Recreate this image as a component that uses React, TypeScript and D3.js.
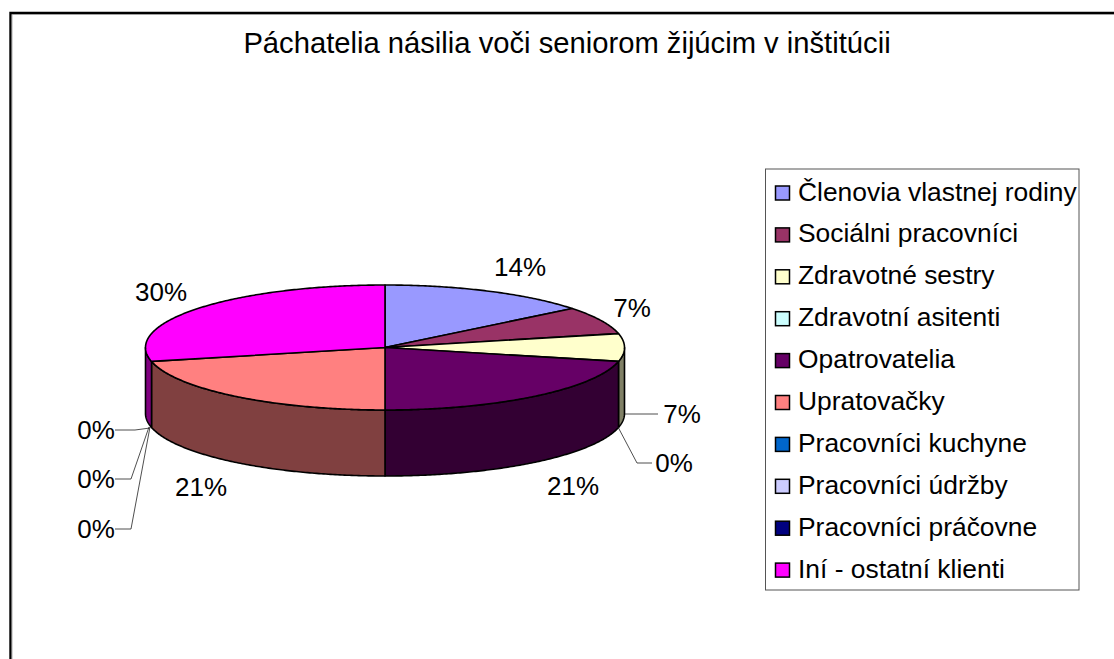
import React from "react";
import * as d3 from "d3";

const categories = [
  "Členovia vlastnej rodiny",
  "Sociálni pracovníci",
  "Zdravotné sestry",
  "Zdravotní asitenti",
  "Opatrovatelia",
  "Upratovačky",
  "Pracovníci kuchyne",
  "Pracovníci údržby",
  "Pracovníci práčovne",
  "Iní - ostatní klienti",
];
const counts = [2, 1, 1, 0, 3, 3, 0, 0, 0, 4];
const valueLabels = ["14%", "7%", "7%", "0%", "21%", "21%", "0%", "0%", "0%", "30%"];
const colors = ["#9999FF", "#993366", "#FFFFCC", "#CCFFFF", "#660066", "#FF8080", "#0066CC", "#CCCCFF", "#000080", "#FF00FF"];
const sideColors = ["#4D4D80", "#4D1A33", "#808066", "#668080", "#330033", "#804040", "#003366", "#666680", "#000040", "#800080"];
const title = "Páchatelia násilia voči seniorom žijúcim v inštitúcii";

// label centres, and leader polylines where the reference has them
const labelCentres: [number, number][] = [
  [520, 267], [632, 308], [682, 414], [674, 463], [573, 486],
  [201, 487], [96, 529], [96, 479], [96, 430], [161, 292],
];
const leaders: ([number, number][] | null)[] = [
  null, null,
  [[625, 414], [658, 414]],
  [[618, 427], [637, 463], [652, 463]],
  null, null,
  [[150, 427], [131, 529], [115, 529]],
  [[149, 427], [131, 479], [115, 479]],
  [[150, 428], [135, 430], [115, 430]],
  null,
];

const cx = 385, cy = 347.5, rx = 239.5, ry = 62.5, depth = 66;
const legend = { x: 765.5, y: 169, w: 313.5, h: 421, swatch: 14, firstRow: 193, rowGap: 41.9 };
const font = "'Liberation Sans', Arial, sans-serif";

const ept = (a: number, dy = 0): [number, number] => [cx + rx * Math.sin(a), cy - ry * Math.cos(a) + dy];
const samples = (a0: number, a1: number) => {
  const n = Math.max(2, Math.ceil((a1 - a0) / 0.01));
  return d3.range(n + 1).map((i) => a0 + ((a1 - a0) * i) / n);
};

export default function App() {
  const arcs = d3.pie<number>().sort(null)(counts);
  const line = d3.line();
  const FRONT0 = Math.PI / 2, FRONT1 = (3 * Math.PI) / 2;
  return (
    <svg
      width={1114}
      height={659}
      style={{ position: "absolute", left: 0, top: 0, background: "#fff", fontFamily: font }}
    >
      <path d="M1114,13H10.5V659" fill="none" stroke="#000" strokeWidth={2.4} />
      <path d="M1114,14.5H12V659" fill="none" stroke="#999" strokeWidth={0.8} />
      <text x={567} y={53} fontSize={29.2} textAnchor="middle" fill="#000">{title}</text>

      {arcs.map((d, i) => {
        const a0 = Math.max(d.startAngle, FRONT0), a1 = Math.min(d.endAngle, FRONT1);
        if (a1 <= a0) return null;
        const s = samples(a0, a1);
        const pts = [...s.map((a) => ept(a)), ...s.slice().reverse().map((a) => ept(a, depth))];
        return <path key={i} d={line(pts) + "Z"} fill={sideColors[i]} stroke="#000" strokeWidth={1.6} strokeLinejoin="round" />;
      })}
      {arcs.map((d, i) => {
        if (d.endAngle <= d.startAngle) return null;
        const pts: [number, number][] = [[cx, cy], ...samples(d.startAngle, d.endAngle).map((a) => ept(a))];
        return <path key={i} d={line(pts) + "Z"} fill={colors[i]} stroke="#000" strokeWidth={1.6} strokeLinejoin="round" />;
      })}

      {leaders.map((l, i) => l && <path key={i} d={line(l)!} fill="none" stroke="#222" strokeWidth={0.8} />)}
      {valueLabels.map((t, i) => (
        <text key={i} x={labelCentres[i][0]} y={labelCentres[i][1] + 9} fontSize={26} textAnchor="middle" fill="#000">{t}</text>
      ))}

      <rect x={legend.x} y={legend.y} width={legend.w} height={legend.h} fill="#fff" stroke="#555" strokeWidth={1} />
      {categories.map((c, i) => {
        const y = legend.firstRow + i * legend.rowGap;
        return (
          <g key={c}>
            <rect x={775.5} y={y - 7} width={legend.swatch} height={legend.swatch} fill={colors[i]} stroke="#000" strokeWidth={1.5} />
            <text x={798} y={y + 7.5} fontSize={26.4} fill="#000">{c}</text>
          </g>
        );
      })}
    </svg>
  );
}
